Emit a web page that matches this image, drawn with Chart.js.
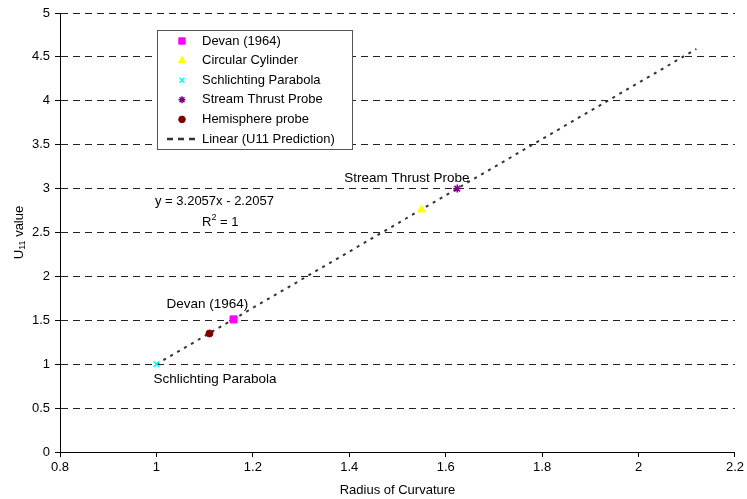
<!DOCTYPE html>
<html>
<head>
<meta charset="utf-8">
<script src="https://cdn.jsdelivr.net/npm/chart.js@4/dist/chart.umd.min.js"></script>
<style>
html,body{margin:0;padding:0;background:#fff;}
#wrap{width:747px;height:499px;position:relative;}
</style>
</head>
<body>
<div id="wrap"><canvas id="c" width="747" height="499"></canvas></div>
<script>
// ---- data ----
const seriesNames = ["Devan (1964)", "Circular Cylinder", "Schlichting Parabola", "Stream Thrust Probe", "Hemisphere probe"];
const devan = [{x: 1.16, y: 1.51}];
const circularCylinder = [{x: 1.55, y: 2.76}];
const schlichting = [{x: 1.0, y: 1.0}];
const streamThrust = [{x: 1.624, y: 3.0}];
const hemisphere = [{x: 1.11, y: 1.35}];
const trendName = "Linear (U11 Prediction)";
const trendLine = [{x: 1.0, y: 1.0}, {x: 2.12, y: 4.59}];
const xTicks = [0.8, 1, 1.2, 1.4, 1.6, 1.8, 2, 2.2];
const yTicks = [0, 0.5, 1, 1.5, 2, 2.5, 3, 3.5, 4, 4.5, 5];
const equationText = "y = 3.2057x - 2.2057";

const FONT = "'Liberation Sans', Arial, sans-serif";
const FS = 13;

const annot = {
  id: 'annot',
  afterDraw(chart) {
    const ctx = chart.ctx;
    const xs = chart.scales.x, ys = chart.scales.y;
    const ca = chart.chartArea;
    ctx.save();
    ctx.fillStyle = '#000';
    ctx.textBaseline = 'middle';
    ctx.textAlign = 'left';
    // point labels
    ctx.font = '13.5px ' + FONT;
    let p = {x: xs.getPixelForValue(devan[0].x), y: ys.getPixelForValue(devan[0].y)};
    ctx.fillText("Devan (1964)", p.x - 67, p.y - 15);
    p = {x: xs.getPixelForValue(schlichting[0].x), y: ys.getPixelForValue(schlichting[0].y)};
    ctx.fillText("Schlichting Parabola", p.x - 3, p.y + 15);
    p = {x: xs.getPixelForValue(streamThrust[0].x), y: ys.getPixelForValue(streamThrust[0].y)};
    ctx.fillText("Stream Thrust Probe", p.x - 113, p.y - 10);
    // equation
    ctx.font = FS + 'px ' + FONT;
    ctx.fillText(equationText, ca.left + 95, ys.getPixelForValue(2.85));
    const ry = ys.getPixelForValue(2.62);
    ctx.fillText("R", ca.left + 142, ry);
    let w = ctx.measureText("R").width;
    ctx.font = '9px ' + FONT;
    ctx.fillText("2", ca.left + 142 + w, ry - 4);
    let w2 = ctx.measureText("2").width;
    ctx.font = FS + 'px ' + FONT;
    ctx.fillText(" = 1", ca.left + 142 + w + w2, ry);

    // y-axis title with subscript
    ctx.save();
    ctx.translate(19, (ca.top + ca.bottom) / 2);
    ctx.rotate(-Math.PI / 2);
    ctx.font = FS + 'px ' + FONT;
    const wU = ctx.measureText("U").width;
    ctx.font = '9px ' + FONT;
    const w11 = ctx.measureText("11").width;
    ctx.font = FS + 'px ' + FONT;
    const wV = ctx.measureText(" value").width;
    let sx = -(wU + w11 + wV) / 2;
    ctx.fillText("U", sx, 0);
    ctx.font = '9px ' + FONT;
    ctx.fillText("11", sx + wU, 3.5);
    ctx.font = FS + 'px ' + FONT;
    ctx.fillText(" value", sx + wU + w11, 0);
    ctx.restore();

    // legend
    const lx = ca.left + 97, ly = ca.top + 17, lw = 195, lh = 119;
    ctx.fillStyle = '#fff';
    ctx.fillRect(lx, ly, lw, lh);
    ctx.strokeStyle = '#555';
    ctx.lineWidth = 1;
    ctx.strokeRect(lx + 0.5, ly + 0.5, lw, lh);
    ctx.font = FS + 'px ' + FONT;
    ctx.textBaseline = 'middle';
    [0, 1, 2, 3, 4].forEach((di, i) => {
      const ds = chart.data.datasets[di];
      const cy = ly + 11 + i * 19.6;
      const cx = lx + 25;
      ctx.save();
      ctx.fillStyle = ds.backgroundColor;
      ctx.strokeStyle = ds.borderColor;
      ctx.lineWidth = ds.borderWidth;
      Chart.helpers.drawPoint(ctx, {
        pointStyle: ds.pointStyle, radius: ds.legendRadius, borderWidth: ds.borderWidth, rotation: 0
      }, cx, cy);
      ctx.restore();
      ctx.fillStyle = '#000';
      ctx.fillText(ds.label, lx + 45, cy);
    });
    const ty = ly + 11 + 5 * 19.6;
    ctx.save();
    ctx.strokeStyle = '#333';
    ctx.lineWidth = 2.5;
    ctx.setLineDash([6, 5]);
    ctx.beginPath();
    ctx.moveTo(lx + 10, ty);
    ctx.lineTo(lx + 40, ty);
    ctx.stroke();
    ctx.restore();
    ctx.fillStyle = '#000';
    ctx.fillText(trendName, lx + 45, ty);
    ctx.restore();
  }
};

function pt(label, data, style, bg, border, r, bw, lr) {
  return {type: 'scatter', label, data, pointStyle: style, backgroundColor: bg, borderColor: border,
    pointRadius: r, pointHoverRadius: r, borderWidth: bw, pointBorderWidth: bw, legendRadius: lr, order: 1};
}

new Chart(document.getElementById('c'), {
  type: 'scatter',
  data: {
    datasets: [
      pt(seriesNames[0], devan, 'rect', '#ff00ff', '#ff00ff', 5, 1, 4.5),
      pt(seriesNames[1], circularCylinder, 'triangle', '#ffff00', '#ffff00', 4.5, 1, 4),
      pt(seriesNames[2], schlichting, 'crossRot', '#00ffff', '#00ffff', 4, 1.5, 3.5),
      pt(seriesNames[3], streamThrust, 'star', '#800080', '#800080', 4, 1.5, 3.5),
      pt(seriesNames[4], hemisphere, 'circle', '#800000', '#800000', 3.5, 1, 3.3),
      {type: 'line', label: trendName, data: trendLine, borderColor: '#333', borderWidth: 2,
        borderDash: [3, 5], pointRadius: 0, fill: false, order: 10, tension: 0}
    ]
  },
  options: {
    responsive: false,
    animation: false,
    events: [],
    layout: {padding: {top: 13, right: 11, left: 0, bottom: 0}},
    plugins: {legend: {display: false}, tooltip: {enabled: false}, title: {display: false}},
    scales: {
      x: {
        type: 'linear', min: 0.8, max: 2.2,
        afterBuildTicks: (s) => { s.ticks = xTicks.map(v => ({value: v})); },
        afterFit: (s) => { s.height = 47; },
        ticks: {color: '#000', font: {family: FONT, size: FS}, padding: 3,
          callback: (v) => String(v), maxRotation: 0, autoSkip: false},
        grid: {drawOnChartArea: false, drawTicks: true, tickLength: 5, tickColor: '#000'},
        border: {display: true, color: '#000', width: 1},
        title: {display: true, text: 'Radius of Curvature', color: '#000', font: {family: FONT, size: FS}, padding: {top: 0, bottom: 1}}
      },
      y: {
        type: 'linear', min: 0, max: 5,
        afterBuildTicks: (s) => { s.ticks = yTicks.map(v => ({value: v})); },
        afterFit: (s) => { s.width = 60; },
        ticks: {color: '#000', font: {family: FONT, size: FS}, padding: 5, callback: (v) => String(v), autoSkip: false},
        grid: {drawOnChartArea: true, color: '#222', lineWidth: 1,
          drawTicks: true, tickLength: 5, tickColor: '#000', tickBorderDash: []},
        border: {display: true, color: '#000', width: 1, dash: [7, 5]}
      }
    }
  },
  plugins: [annot]
});
</script>
</body>
</html>
